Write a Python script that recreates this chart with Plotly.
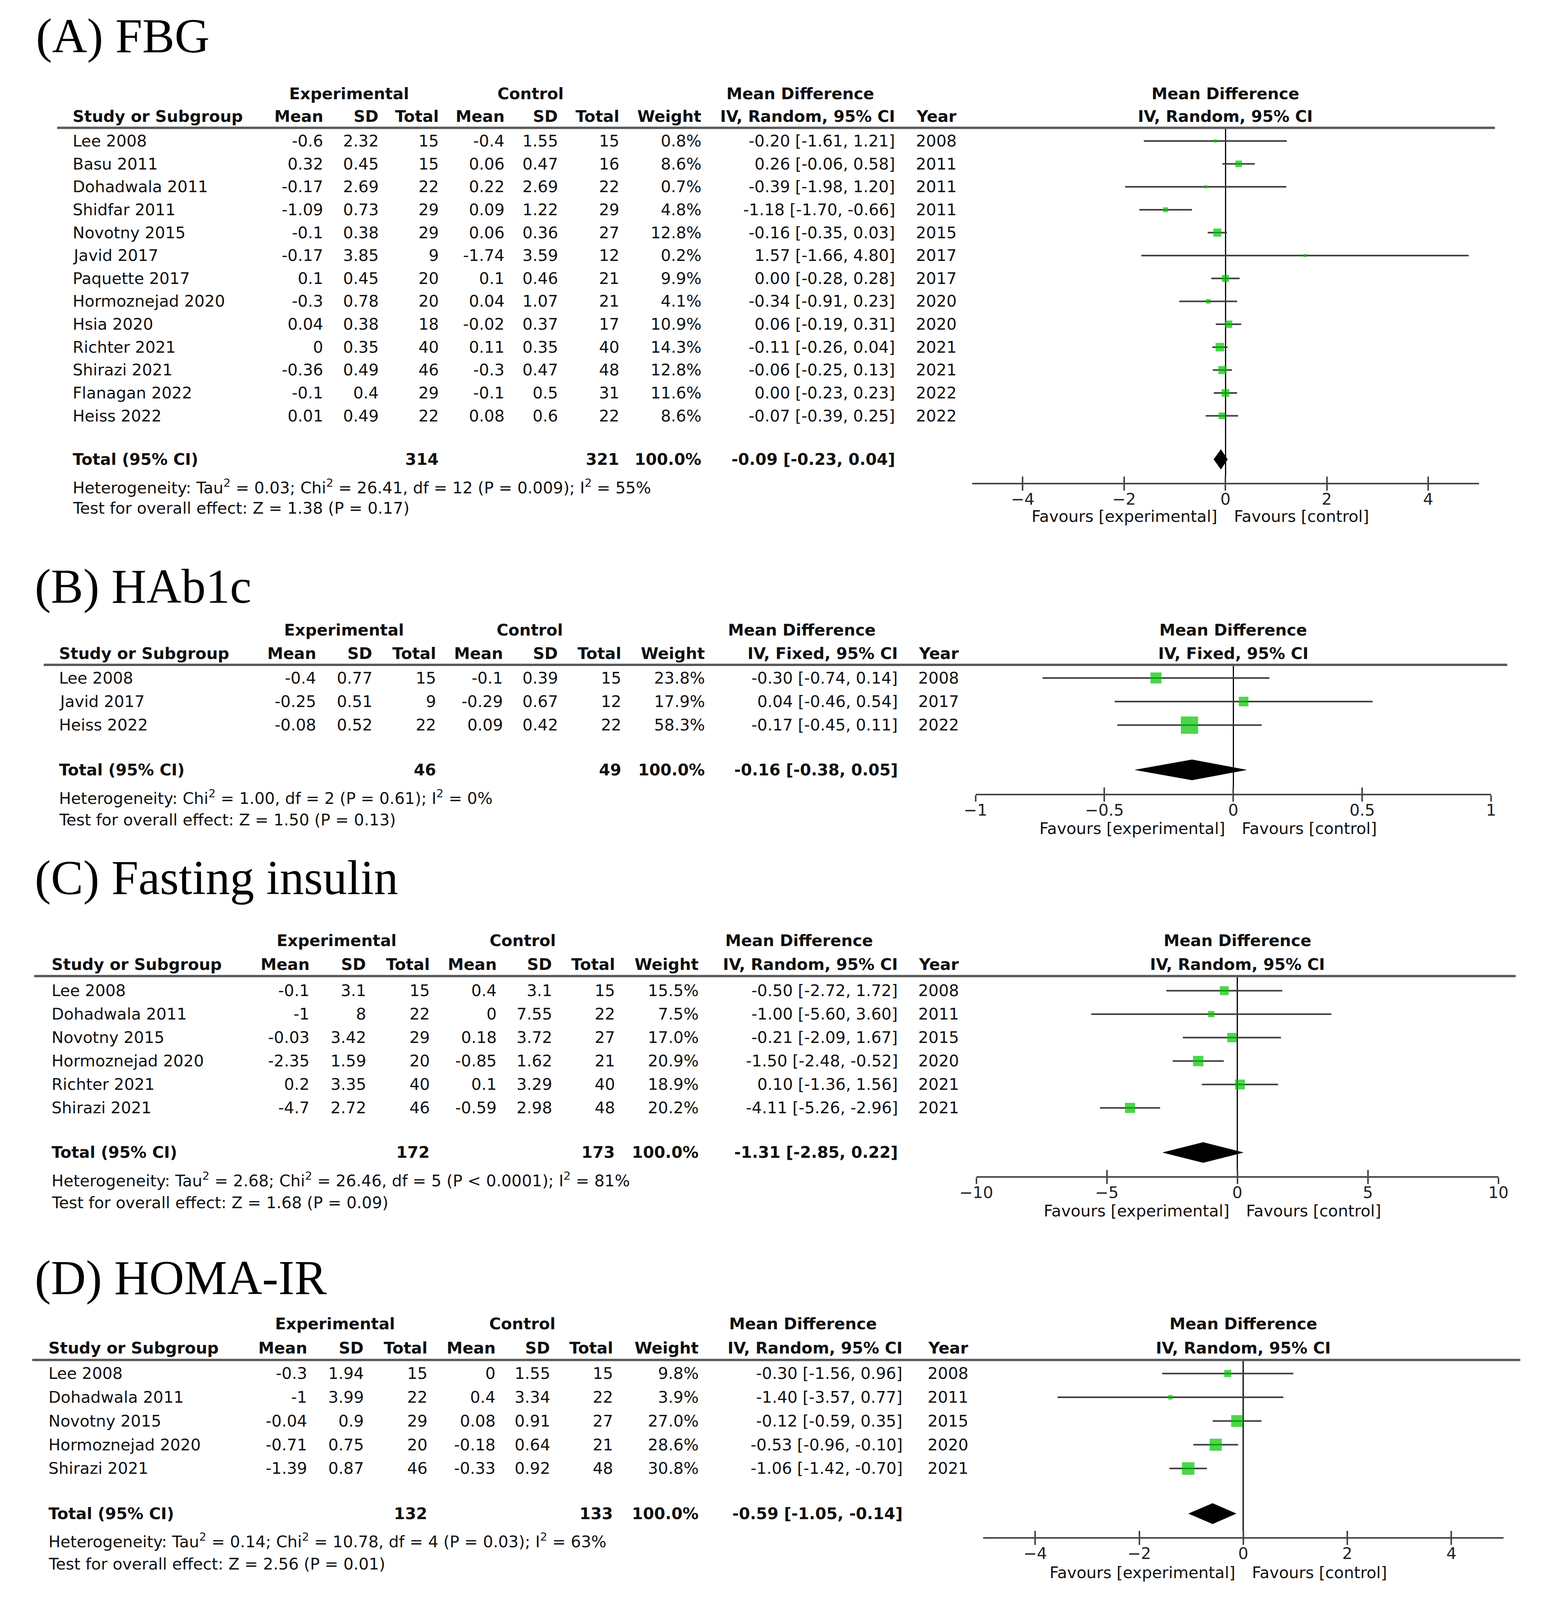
import math
import plotly.graph_objects as go

# Reference canvas is 3954 x 4380; the photographing browser only shows 4096 px of height,
# so the figure is laid out to fill exactly that visible area (positions measured on the
# reference are mapped proportionally).
W, H_REF = 3954, 4380
HF = 4096
SY = HF / H_REF
OX, OY = 8, 8          # default page margin of the HTML body

# ===================== (A) FBG =====================
a_title = "(A) FBG"
a_model = "IV, Random, 95% CI"
a_study = ["Lee 2008", "Basu 2011", "Dohadwala 2011", "Shidfar 2011", "Novotny 2015", "Javid 2017",
           "Paquette 2017", "Hormoznejad 2020", "Hsia 2020", "Richter 2021", "Shirazi 2021",
           "Flanagan 2022", "Heiss 2022"]
a_exp_mean = [-0.6, 0.32, -0.17, -1.09, -0.1, -0.17, 0.1, -0.3, 0.04, 0, -0.36, -0.1, 0.01]
a_exp_sd = [2.32, 0.45, 2.69, 0.73, 0.38, 3.85, 0.45, 0.78, 0.38, 0.35, 0.49, 0.4, 0.49]
a_exp_n = [15, 15, 22, 29, 29, 9, 20, 20, 18, 40, 46, 29, 22]
a_ctl_mean = [-0.4, 0.06, 0.22, 0.09, 0.06, -1.74, 0.1, 0.04, -0.02, 0.11, -0.3, -0.1, 0.08]
a_ctl_sd = [1.55, 0.47, 2.69, 1.22, 0.36, 3.59, 0.46, 1.07, 0.37, 0.35, 0.47, 0.5, 0.6]
a_ctl_n = [15, 16, 22, 29, 27, 12, 21, 21, 17, 40, 48, 31, 22]
a_weight = [0.8, 8.6, 0.7, 4.8, 12.8, 0.2, 9.9, 4.1, 10.9, 14.3, 12.8, 11.6, 8.6]
a_md = [-0.20, 0.26, -0.39, -1.18, -0.16, 1.57, 0.00, -0.34, 0.06, -0.11, -0.06, 0.00, -0.07]
a_lo = [-1.61, -0.06, -1.98, -1.70, -0.35, -1.66, -0.28, -0.91, -0.19, -0.26, -0.25, -0.23, -0.39]
a_hi = [1.21, 0.58, 1.20, -0.66, 0.03, 4.80, 0.28, 0.23, 0.31, 0.04, 0.13, 0.23, 0.25]
a_year = [2008, 2011, 2011, 2011, 2015, 2017, 2017, 2020, 2020, 2021, 2021, 2022, 2022]
a_total_n = [314, 321]
a_total_weight = 100.0
a_total_md = [-0.09, -0.23, 0.04]
a_het = "Heterogeneity: Tau<sup>2</sup> = 0.03; Chi<sup>2</sup> = 26.41, df = 12 (P = 0.009); I<sup>2</sup> = 55%"
a_test = "Test for overall effect: Z = 1.38 (P = 0.17)"
a_ticks = [-4, -2, 0, 2, 4]
a_ticktext = ["\u22124", "\u22122", "0", "2", "4"]
a_range = [-5, 5]

# ===================== (B) HAb1c =====================
b_title = "(B) HAb1c"
b_model = "IV, Fixed, 95% CI"
b_study = ["Lee 2008", "Javid 2017", "Heiss 2022"]
b_exp_mean = [-0.4, -0.25, -0.08]
b_exp_sd = [0.77, 0.51, 0.52]
b_exp_n = [15, 9, 22]
b_ctl_mean = [-0.1, -0.29, 0.09]
b_ctl_sd = [0.39, 0.67, 0.42]
b_ctl_n = [15, 12, 22]
b_weight = [23.8, 17.9, 58.3]
b_md = [-0.30, 0.04, -0.17]
b_lo = [-0.74, -0.46, -0.45]
b_hi = [0.14, 0.54, 0.11]
b_year = [2008, 2017, 2022]
b_total_n = [46, 49]
b_total_weight = 100.0
b_total_md = [-0.16, -0.38, 0.05]
b_het = "Heterogeneity: Chi<sup>2</sup> = 1.00, df = 2 (P = 0.61); I<sup>2</sup> = 0%"
b_test = "Test for overall effect: Z = 1.50 (P = 0.13)"
b_ticks = [-1, -0.5, 0, 0.5, 1]
b_ticktext = ["\u22121", "\u22120.5", "0", "0.5", "1"]
b_range = [-1, 1]

# ===================== (C) Fasting insulin =====================
c_title = "(C) Fasting insulin"
c_model = "IV, Random, 95% CI"
c_study = ["Lee 2008", "Dohadwala 2011", "Novotny 2015", "Hormoznejad 2020", "Richter 2021", "Shirazi 2021"]
c_exp_mean = [-0.1, -1, -0.03, -2.35, 0.2, -4.7]
c_exp_sd = [3.1, 8, 3.42, 1.59, 3.35, 2.72]
c_exp_n = [15, 22, 29, 20, 40, 46]
c_ctl_mean = [0.4, 0, 0.18, -0.85, 0.1, -0.59]
c_ctl_sd = [3.1, 7.55, 3.72, 1.62, 3.29, 2.98]
c_ctl_n = [15, 22, 27, 21, 40, 48]
c_weight = [15.5, 7.5, 17.0, 20.9, 18.9, 20.2]
c_md = [-0.50, -1.00, -0.21, -1.50, 0.10, -4.11]
c_lo = [-2.72, -5.60, -2.09, -2.48, -1.36, -5.26]
c_hi = [1.72, 3.60, 1.67, -0.52, 1.56, -2.96]
c_year = [2008, 2011, 2015, 2020, 2021, 2021]
c_total_n = [172, 173]
c_total_weight = 100.0
c_total_md = [-1.31, -2.85, 0.22]
c_het = "Heterogeneity: Tau<sup>2</sup> = 2.68; Chi<sup>2</sup> = 26.46, df = 5 (P &lt; 0.0001); I<sup>2</sup> = 81%"
c_test = "Test for overall effect: Z = 1.68 (P = 0.09)"
c_ticks = [-10, -5, 0, 5, 10]
c_ticktext = ["\u221210", "\u22125", "0", "5", "10"]
c_range = [-10, 10]

# ===================== (D) HOMA-IR =====================
d_title = "(D) HOMA-IR"
d_model = "IV, Random, 95% CI"
d_study = ["Lee 2008", "Dohadwala 2011", "Novotny 2015", "Hormoznejad 2020", "Shirazi 2021"]
d_exp_mean = [-0.3, -1, -0.04, -0.71, -1.39]
d_exp_sd = [1.94, 3.99, 0.9, 0.75, 0.87]
d_exp_n = [15, 22, 29, 20, 46]
d_ctl_mean = [0, 0.4, 0.08, -0.18, -0.33]
d_ctl_sd = [1.55, 3.34, 0.91, 0.64, 0.92]
d_ctl_n = [15, 22, 27, 21, 48]
d_weight = [9.8, 3.9, 27.0, 28.6, 30.8]
d_md = [-0.30, -1.40, -0.12, -0.53, -1.06]
d_lo = [-1.56, -3.57, -0.59, -0.96, -1.42]
d_hi = [0.96, 0.77, 0.35, -0.10, -0.70]
d_year = [2008, 2011, 2015, 2020, 2021]
d_total_n = [132, 133]
d_total_weight = 100.0
d_total_md = [-0.59, -1.05, -0.14]
d_het = "Heterogeneity: Tau<sup>2</sup> = 0.14; Chi<sup>2</sup> = 10.78, df = 4 (P = 0.03); I<sup>2</sup> = 63%"
d_test = "Test for overall effect: Z = 2.56 (P = 0.01)"
d_ticks = [-4, -2, 0, 2, 4]
d_ticktext = ["\u22124", "\u22122", "0", "2", "4"]
d_range = [-5, 5]

panels = [
    dict(title=a_title, model=a_model, study=a_study, em=a_exp_mean, esd=a_exp_sd, en=a_exp_n,
         cm=a_ctl_mean, csd=a_ctl_sd, cn=a_ctl_n, w=a_weight, md=a_md, lo=a_lo, hi=a_hi, yr=a_year,
         tn=a_total_n, tw=a_total_weight, tmd=a_total_md, het=a_het, test=a_test,
         ticks=a_ticks, ticktext=a_ticktext, xr=a_range),
    dict(title=b_title, model=b_model, study=b_study, em=b_exp_mean, esd=b_exp_sd, en=b_exp_n,
         cm=b_ctl_mean, csd=b_ctl_sd, cn=b_ctl_n, w=b_weight, md=b_md, lo=b_lo, hi=b_hi, yr=b_year,
         tn=b_total_n, tw=b_total_weight, tmd=b_total_md, het=b_het, test=b_test,
         ticks=b_ticks, ticktext=b_ticktext, xr=b_range),
    dict(title=c_title, model=c_model, study=c_study, em=c_exp_mean, esd=c_exp_sd, en=c_exp_n,
         cm=c_ctl_mean, csd=c_ctl_sd, cn=c_ctl_n, w=c_weight, md=c_md, lo=c_lo, hi=c_hi, yr=c_year,
         tn=c_total_n, tw=c_total_weight, tmd=c_total_md, het=c_het, test=c_test,
         ticks=c_ticks, ticktext=c_ticktext, xr=c_range),
    dict(title=d_title, model=d_model, study=d_study, em=d_exp_mean, esd=d_exp_sd, en=d_exp_n,
         cm=d_ctl_mean, csd=d_ctl_sd, cn=d_ctl_n, w=d_weight, md=d_md, lo=d_lo, hi=d_hi, yr=d_year,
         tn=d_total_n, tw=d_total_weight, tmd=d_total_md, het=d_het, test=d_test,
         ticks=d_ticks, ticktext=d_ticktext, xr=d_range),
]

# ---------------- layout geometry (reference pixels) ----------------
GEOM = [
    dict(title=99, h1=257, h2=319, rule=350, row0=386, pitch=62.7, het=1332, test=1391, axis=1322, fav=1414,
         rule_l=105, rule_r=3850, fx0=2488, fx1=3808, tx=48,
         col=dict(study=143, em=800, esd=944, en=1101, cm=1272, csd=1411, cn=1571, w=1785, ci=2290, yr=2450,
                  exp_c=865, ctl_c=1338, md_c=2040)),
    dict(title=1606, h1=1725, h2=1789, rule=1820, row0=1856, pitch=64.5, het=2183, test=2245, axis=2173, fav=2268,
         rule_l=70, rule_r=3882, fx0=2497, fx1=3840, tx=45,
         col=dict(study=108, em=781, esd=928, en=1094, cm=1268, csd=1411, cn=1576, w=1794, ci=2297, yr=2456,
                  exp_c=852, ctl_c=1336, md_c=2045)),
    dict(title=2403, h1=2575, h2=2640, rule=2672, row0=2712, pitch=64.2, het=3229, test=3292, axis=3220, fav=3315,
         rule_l=45, rule_r=3904, fx0=2499, fx1=3859, tx=45,
         col=dict(study=88, em=764, esd=912, en=1078, cm=1252, csd=1396, cn=1560, w=1778, ci=2297, yr=2456,
                  exp_c=833, ctl_c=1318, md_c=2037)),
    dict(title=3498, h1=3624, h2=3690, rule=3723, row0=3760, pitch=65.0, het=4217, test=4282, axis=4208, fav=4305,
         rule_l=40, rule_r=3916, fx0=2517, fx1=3872, tx=45,
         col=dict(study=80, em=758, esd=906, en=1072, cm=1249, csd=1391, cn=1555, w=1778, ci=2309, yr=2480,
                  exp_c=829, ctl_c=1317, md_c=2048)),
]

FONT = "DejaVu Sans"
TXT = "#111111"
FS = 41
GREEN = "#00c400"
CI_COLOR = "#3c3c3c"
AX_COLOR = "#454545"


def px_x(X):            # reference x pixel -> paper fraction
    return (X - OX) / W


def px_y(Y):            # reference y pixel -> paper fraction
    return 1 - (Y * SY - OY) / HF


def g(v):
    return f"{v:g}"


def ci_text(m, l, h):
    return f"{m:.2f} [{l:.2f}, {h:.2f}]"


fig = go.Figure()
annotations = []
shapes = []
layout_axes = {}

for k, (p, G) in enumerate(zip(panels, GEOM)):
    sfx = "" if k == 0 else str(k + 1)
    xa, ya = "x" + sfx, "y" + sfx
    ov = "x" + str(k + 5)
    n = len(p["study"])
    yu = lambda Y, G=G: (Y - G["row0"]) / G["pitch"]               # ref pixel -> row units
    pp = lambda r, G=G: px_y(G["row0"] + r * G["pitch"])            # row units -> paper
    t_y = n + 0.9
    C = G["col"]

    # --- axes ---
    layout_axes["xaxis" + sfx] = dict(
        domain=[px_x(G["fx0"]), px_x(G["fx1"])], range=p["xr"], anchor=ya,
        tickmode="array", tickvals=p["ticks"], ticktext=p["ticktext"],
        ticks="outside", ticklen=16, tickwidth=3.5, tickcolor=AX_COLOR, ticklabelstandoff=-13,
        showline=True, linecolor=AX_COLOR, linewidth=4,
        showgrid=False, zeroline=True, zerolinecolor="#000000", zerolinewidth=3,
        tickfont=dict(family=FONT, size=FS, color="#222222"), fixedrange=True,
    )
    layout_axes["xaxis" + str(k + 5)] = dict(
        overlaying=xa, anchor=ya, range=p["xr"], side="bottom",
        tickmode="array", tickvals=p["ticks"], ticks="inside", ticklen=16, tickwidth=3.5,
        tickcolor=AX_COLOR, showticklabels=False, showline=False, showgrid=False, zeroline=False,
        fixedrange=True,
    )
    layout_axes["yaxis" + sfx] = dict(
        domain=[px_y(G["axis"]), px_y(G["rule"])],
        range=[yu(G["axis"]), yu(G["rule"])], visible=False, fixedrange=True,
    )

    # --- CI lines ---
    cx, cy = [], []
    for i in range(n):
        cx += [p["lo"][i], p["hi"][i], None]
        cy += [i, i, None]
    fig.add_trace(go.Scatter(x=cx, y=cy, mode="lines", xaxis=xa, yaxis=ya,
                             line=dict(color=CI_COLOR, width=4), hoverinfo="skip", showlegend=False))
    # --- weight squares (area proportional to weight) ---
    fig.add_trace(go.Scatter(
        x=p["md"], y=list(range(n)), mode="markers", xaxis=xa, yaxis=ya,
        marker=dict(symbol="square", color=GREEN, size=[max(8, 5.8 * math.sqrt(w)) for w in p["w"]],
                    line=dict(width=0)),
        hoverinfo="skip", showlegend=False))
    # --- pooled diamond ---
    tm, tl, th = p["tmd"]
    hh = 0.43
    fig.add_trace(go.Scatter(
        x=[tl, tm, th, tm, tl], y=[t_y, t_y - hh, t_y, t_y + hh, t_y], mode="lines",
        fill="toself", fillcolor="#000000", line=dict(color="#000000", width=1),
        xaxis=xa, yaxis=ya, hoverinfo="skip", showlegend=False))
    # invisible trace carrying the overlay tick axis (ticks that cross the axis line)
    fig.add_trace(go.Scatter(x=[tm], y=[t_y], mode="markers", marker=dict(opacity=0, size=1),
                             xaxis=ov, yaxis=ya, hoverinfo="skip", showlegend=False))

    # --- header rule ---
    shapes.append(dict(type="line", xref="paper", yref=ya + " domain",
                       x0=px_x(G["rule_l"]), x1=px_x(G["rule_r"]),
                       y0=1, y1=1, line=dict(color="#5a5a5a", width=6)))

    def T(X, r, text, anchor="right", bold=False, size=FS, family=FONT, color=TXT):
        annotations.append(dict(x=px_x(X), xref="paper", y=pp(r), yref="paper",
                                text=f"<b>{text}</b>" if bold else text, showarrow=False,
                                xanchor=anchor, yanchor="middle",
                                font=dict(family=family, size=size, color=color)))

    # title
    T(G["tx"], yu(G["title"]), p["title"], anchor="left", size=124, family="Liberation Serif", color="#000000")
    # header line 1
    yh1, yh2 = yu(G["h1"]), yu(G["h2"])
    T(C["exp_c"], yh1, "Experimental", anchor="center", bold=True)
    T(C["ctl_c"], yh1, "Control", anchor="center", bold=True)
    T(C["md_c"], yh1, "Mean Difference", anchor="center", bold=True)
    # header line 2
    T(C["study"], yh2, "Study or Subgroup", anchor="left", bold=True)
    for key, lab in [("em", "Mean"), ("esd", "SD"), ("en", "Total"), ("cm", "Mean"), ("csd", "SD"),
                     ("cn", "Total"), ("w", "Weight"), ("ci", p["model"]), ("yr", "Year")]:
        T(C[key], yh2, lab, bold=True)
    # forest header
    for yy, lab in [(yh1, "Mean Difference"), (yh2, p["model"])]:
        annotations.append(dict(x=0, xref=xa, y=pp(yy), yref="paper", text=f"<b>{lab}</b>", showarrow=False,
                                xanchor="center", yanchor="middle",
                                font=dict(family=FONT, size=FS, color=TXT)))
    # study rows
    for i in range(n):
        T(C["study"], i, p["study"][i], anchor="left")
        T(C["em"], i, g(p["em"][i]))
        T(C["esd"], i, g(p["esd"][i]))
        T(C["en"], i, str(p["en"][i]))
        T(C["cm"], i, g(p["cm"][i]))
        T(C["csd"], i, g(p["csd"][i]))
        T(C["cn"], i, str(p["cn"][i]))
        T(C["w"], i, f"{p['w'][i]:.1f}%")
        T(C["ci"], i, ci_text(p["md"][i], p["lo"][i], p["hi"][i]))
        T(C["yr"], i, str(p["yr"][i]))
    # total row
    T(C["study"], t_y, "Total (95% CI)", anchor="left", bold=True)
    T(C["en"], t_y, str(p["tn"][0]), bold=True)
    T(C["cn"], t_y, str(p["tn"][1]), bold=True)
    T(C["w"], t_y, f"{p['tw']:.1f}%", bold=True)
    T(C["ci"], t_y, ci_text(tm, tl, th), bold=True)
    # heterogeneity / overall effect
    T(C["study"], yu(G["het"]), p["het"], anchor="left")
    T(C["study"], yu(G["test"]), p["test"], anchor="left")
    # favours labels
    for anchor, shift, lab in [("right", -18, "Favours [experimental]"), ("left", 20, "Favours [control]")]:
        annotations.append(dict(x=0, xref=xa, y=pp(yu(G["fav"])), yref="paper", text=lab, showarrow=False,
                                xanchor=anchor, yanchor="middle", xshift=shift,
                                font=dict(family=FONT, size=FS, color=TXT)))

fig.update_layout(
    width=W, height=HF, autosize=False,
    margin=dict(l=0, r=0, t=0, b=0),
    paper_bgcolor="#ffffff", plot_bgcolor="rgba(0,0,0,0)",
    showlegend=False, annotations=annotations, shapes=shapes,
    **layout_axes,
)

fig.write_html("out.html")
